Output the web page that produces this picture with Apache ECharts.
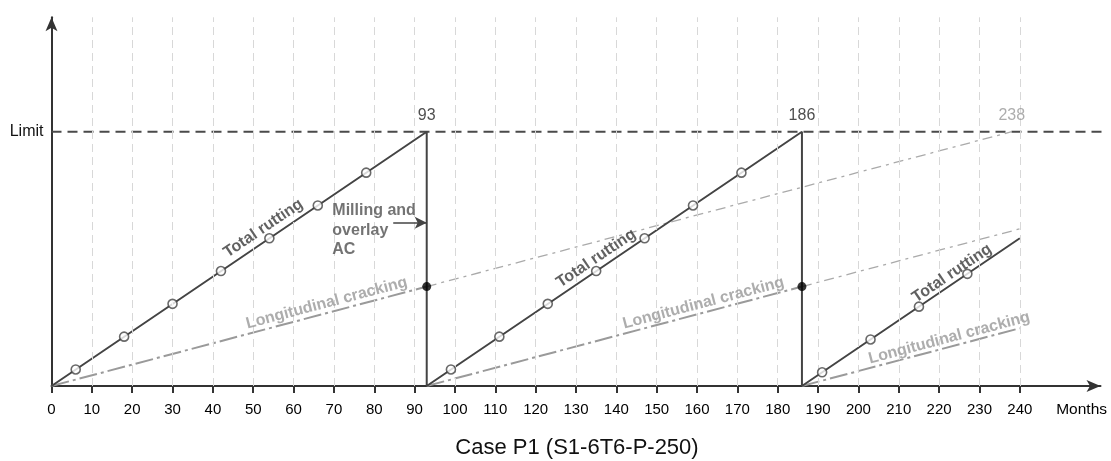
<!DOCTYPE html>
<html>
<head>
<meta charset="utf-8">
<script src="https://cdn.jsdelivr.net/npm/echarts@6/dist/echarts.min.js"></script>
<style>
html, body { margin: 0; padding: 0; background: #fff; }
#chart { width: 1111px; height: 461px; }
</style>
</head>
<body>
<div id="chart"></div>
<script>
// tick labels / grid lines (months)
var xTicks = [0, 10, 20, 30, 40, 50, 60, 70, 80, 90, 100, 110, 120, 130, 140, 150, 160, 170, 180, 190, 200, 210, 220, 230, 240];
var gridX = [10, 20, 30, 40, 50, 60, 70, 80, 90, 100, 110, 120, 130, 140, 150, 160, 170, 180, 190, 200, 210, 220, 230, 240];
var limitLine = [[0, 100], [263, 100]];

// total rutting: grows to limit, milled at 93 and 186
var rutPath = [[0, 0], [93, 100], [93, 0], [186, 100], [186, 0], [240, 58.1]];
var rutMarks = [[6, 6.5], [18, 19.4], [30, 32.3], [42, 45.2], [54, 58.1], [66, 71.0], [78, 83.9],
  [99, 6.5], [111, 19.4], [123, 32.3], [135, 45.2], [147, 58.1], [159, 71.0], [171, 83.9],
  [191, 5.4], [203, 18.3], [215, 31.2], [227, 44.1]];

// longitudinal cracking
var crack1 = [[0, 0], [93, 39.1]];
var crack2 = [[93, 0], [186, 39.1]];
var crack3 = [[186, 0], [240, 22.7]];
var crack1Ext = [[93, 39.1], [238, 100]];
var crack2Ext = [[186, 39.1], [240, 61.8]];
var crackAtMill = [[93, 39.1], [186, 39.1]];

var limitHits = [[93, 100, '93'], [186, 100, '186'], [238, 100, '238']];
var rutLabelAt = [[52.5, 62], [135, 50.2], [223.2, 44.3]];
var crackLabelAt = [[68.2, 32.6], [161.6, 32.6], [222.5, 18.9]];
var millLabelAt = [69.6, 61.2];
var millArrow = [[84.7, 64.2], [93, 64.2]];

var font = "'Liberation Sans', Arial, Helvetica, sans-serif";
var dark = '#444';
var grey = '#9a9a9a';

var myChart = echarts.init(document.getElementById('chart'));

var option = {
  animation: false,
  textStyle: { fontFamily: font },
  title: {
    text: 'Case P1 (S1-6T6-P-250)',
    left: 572, top: 432, textAlign: 'center',
    textStyle: { fontFamily: font, fontSize: 22, fontWeight: 'normal', color: '#111' }
  },
  grid: { left: 51.5, right: 10.5, top: 17.3, bottom: 75, containLabel: false, outerBoundsMode: 'none' },
  xAxis: {
    type: 'value', min: 0, max: 260,
    name: 'Months', nameLocation: 'end', nameGap: 6.5,
    nameTextStyle: { fontFamily: font, fontSize: 15.5, color: '#000', align: 'right', verticalAlign: 'top', padding: [16, 0, 0, 0] },
    axisLine: { show: true, onZero: false, symbol: ['none', 'arrow'], symbolSize: [9, 14], lineStyle: { color: '#333', width: 2 } },
    axisTick: { show: true, customValues: xTicks, length: 7, lineStyle: { color: '#333', width: 2 } },
    axisLabel: { customValues: xTicks, fontFamily: font, fontSize: 15, color: '#000', margin: 16 },
    splitLine: { show: false }
  },
  yAxis: {
    type: 'value', min: 0, max: 145,
    axisLine: { show: true, onZero: false, symbol: ['none', 'arrow'], symbolSize: [9, 14], lineStyle: { color: '#333', width: 2 } },
    axisTick: { show: false },
    axisLabel: {
      customValues: [100], fontFamily: font, fontSize: 16, color: '#111', margin: 8,
      formatter: function () { return 'Limit'; }
    },
    splitLine: { show: false }
  },
  series: [
    {
      name: 'limit', type: 'line', data: limitLine, clip: false, symbol: 'none', z: 1,
      lineStyle: { color: '#4a4a4a', width: 2, type: [10, 6] },
      markLine: {
        silent: true, symbol: 'none', label: { show: false }, animation: false,
        lineStyle: { color: '#d8d8d8', width: 1, type: [8, 5] },
        data: gridX.map(function (v) { return { xAxis: v }; })
      }
    },
    { type: 'line', data: crack1Ext, symbol: 'none', z: 2, lineStyle: { color: '#aaa', width: 1.3, type: [10, 5, 3, 5] } },
    { type: 'line', data: crack2Ext, symbol: 'none', z: 2, lineStyle: { color: '#aaa', width: 1.3, type: [10, 5, 3, 5] } },
    { type: 'line', data: crack1, symbol: 'none', z: 3, lineStyle: { color: grey, width: 2, type: [18, 4, 3, 4] } },
    { type: 'line', data: crack2, symbol: 'none', z: 3, lineStyle: { color: grey, width: 2, type: [18, 4, 3, 4] } },
    { type: 'line', data: crack3, symbol: 'none', z: 3, lineStyle: { color: grey, width: 2, type: [18, 4, 3, 4] } },
    {
      name: 'Total rutting', type: 'line', data: rutPath, symbol: 'none', z: 4,
      lineStyle: { color: dark, width: 2 },
      markLine: {
        silent: true, animation: false, symbolSize: [9, 12],
        label: { show: false },
        lineStyle: { color: dark, width: 1.5, type: 'solid' },
        data: [[{ coord: millArrow[0], symbol: 'none' }, { coord: millArrow[1], symbol: 'arrow' }]]
      }
    },
    {
      type: 'scatter', data: rutMarks, symbol: 'circle', symbolSize: 9, z: 5,
      itemStyle: { color: '#fff', borderColor: dark, borderWidth: 1.6 }
    },
    {
      type: 'scatter', data: crackAtMill, symbol: 'circle', symbolSize: 9, z: 5,
      itemStyle: { color: '#000' }
    },
    {
      type: 'scatter', symbolSize: 0, z: 6,
      data: limitHits.map(function (d) {
        return {
          value: [d[0], d[1]],
          label: { color: d[2] === '238' ? '#999' : '#222' }
        };
      }),
      label: {
        show: true, position: 'top', distance: 8, fontFamily: font, fontSize: 16,
        formatter: function (p) { return limitHits[p.dataIndex][2]; }
      }
    },
    {
      type: 'scatter', symbolSize: 0, z: 6, data: rutLabelAt,
      label: {
        show: true, position: 'inside', rotate: 34.1, fontFamily: font, fontSize: 16,
        fontWeight: 'bold', color: '#3a3a3a', formatter: 'Total rutting'
      }
    },
    {
      type: 'scatter', symbolSize: 0, z: 6, data: crackLabelAt,
      label: {
        show: true, position: 'inside', rotate: 14.8, fontFamily: font, fontSize: 16,
        fontWeight: 'bold', color: '#999', formatter: 'Longitudinal cracking'
      }
    },
    {
      type: 'scatter', symbolSize: 0, z: 6, data: [millLabelAt],
      label: {
        show: true, position: 'right', distance: 0, fontFamily: font, fontSize: 16,
        fontWeight: 'bold', color: '#505050', lineHeight: 19.5,
        formatter: 'Milling and\noverlay\nAC'
      }
    }
  ]
};

myChart.setOption(option);
</script>
</body>
</html>
